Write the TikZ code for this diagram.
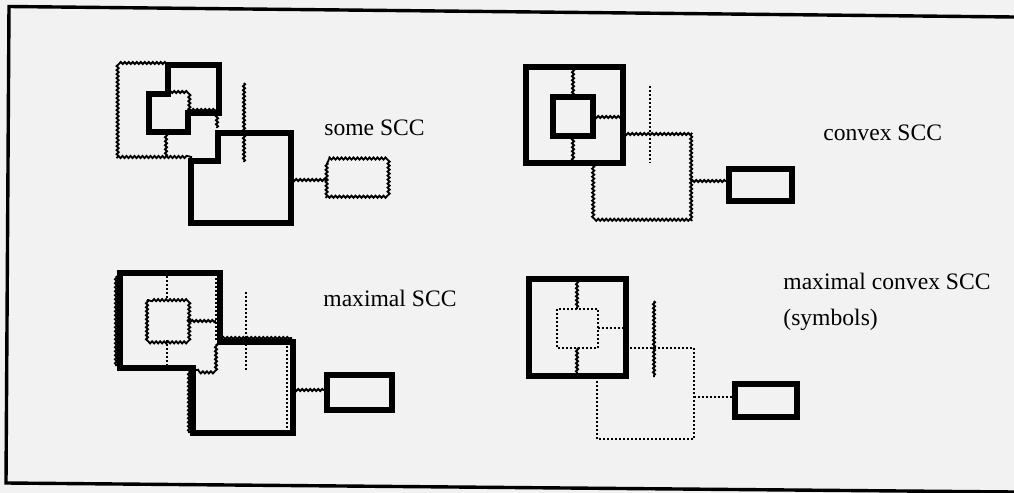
\documentclass[tikz,border=0pt]{standalone}
\usepackage{fontspec}
\setmainfont{Liberation Serif}
\usetikzlibrary{decorations.pathmorphing}
\tikzset{
  thk/.style={line width=2.6pt, line join=miter},
  wavy/.style={line width=0.9pt, decorate, decoration={snake, amplitude=0.55pt, segment length=2pt}},
  dots/.style={line width=1.3pt, dash pattern=on 1pt off 1pt},
  lbl/.style={anchor=base west, inner sep=0pt, font=\fontsize{11.8}{14}\selectfont},
}
\begin{document}
\begin{tikzpicture}[x=0.5pt,y=-0.5pt]
\fill[black!5] (0,0) rectangle (1014,493);
\useasboundingbox (0,0) rectangle (1014,493);
% frame
\coordinate (ftr) at (1014,17);
\coordinate (ftl) at (9,6.5);
\coordinate (fbl) at (6,483);
\coordinate (fbr) at (1014,492);
\draw[line width=1.7pt] (ftr) -- (ftl) -- (fbl) -- (fbr);

% ---------------- panel 1: some SCC
\draw[thk] (168,65) -- (219,65) -- (219,113) -- (188,113) -- (188,132) -- (149,132) -- (149,94) -- (168,94) -- cycle;
\draw[wavy] (168,63) -- (119,63) -- (119,157) -- (192,157);
\draw[wavy] (169,92) -- (188,92) -- (188,112);
\draw[wavy] (188,110) -- (217,110);
\draw[wavy] (217,113) -- (217,128);
\draw[wavy] (166,134) -- (166,157);
\draw[thk] (218,133) -- (291,133) -- (291,223) -- (191,223) -- (191,161) -- (218,161) -- cycle;
\draw[wavy] (244,83) -- (244,162);
\coordinate (c1) at (291,180);
\node[inner sep=0pt, minimum width=30.5pt, minimum height=17pt] (d1) at (357.5,180) {};
\draw[wavy] (d1.north west) rectangle (d1.south east);
\draw[wavy] (c1) -- (c1 -| d1.west);
\node[lbl] (t1) at (324,135) {some SCC};

% ---------------- panel 2: convex SCC
\draw[thk] (526,67) rectangle (623,163);
\draw[thk] (553,97) rectangle (593,136);
\draw[wavy] (573,69) -- (573,97);
\draw[wavy] (573,136) -- (573,161);
\draw[wavy] (593,117) -- (622,117);
\draw[wavy] (623,134) -- (691,134) -- (691,223) -- (593,223) -- (593,164);
\draw[dots] (650,86) -- (650,163);
\coordinate (c2) at (691,181);
\node[draw, thk, inner sep=0pt, minimum width=31.5pt, minimum height=16pt] (d2) at (760.5,185) {};
\draw[wavy] (c2) -- (c2 -| d2.west);
\node[lbl] (t2) at (823,140) {convex SCC};

% ---------------- panel 3: maximal SCC
\draw[thk] (120,273) -- (220,273) -- (220,342) -- (293,342) -- (293,433) -- (193,433) -- (193,368) -- (120,368) -- cycle;
\draw[wavy] (116,276) -- (116,366);
\draw[dots] (216,278) -- (216,340);
\draw[wavy] (216,344) -- (216,370) -- (196,370);
\draw[wavy] (222,338) -- (292,338);
\draw[dots] (287,346) -- (287,430);
\draw[wavy] (189,371) -- (189,433);
\draw[wavy] (147,300) rectangle (187,340);
\draw[dots] (167,276) -- (167,300);
\draw[dots] (167,340) -- (167,366);
\draw[wavy] (187,321) -- (216,321);
\draw[dots] (246,292) -- (246,372);
\coordinate (c3) at (293,390);
\node[draw, thk, inner sep=0pt, minimum width=32.5pt, minimum height=17.5pt] (d3) at (359.5,392.5) {};
\draw[wavy] (c3) -- (c3 -| d3.west);
\node[lbl] (t3) at (323,306) {maximal SCC};

% ---------------- panel 4: maximal convex SCC
\draw[thk] (529,279) rectangle (626,376);
\draw[dots] (557,309) rectangle (598,348);
\draw[wavy] (577,281) -- (577,309);
\draw[wavy] (577,348) -- (577,374);
\draw[dots] (598,328) -- (625,328);
\draw[dots] (626,348) -- (694,348) -- (694,439) -- (597,439) -- (597,377);
\draw[wavy] (654,301) -- (654,377);
\coordinate (c4) at (694,397);
\node[draw, thk, inner sep=0pt, minimum width=31pt, minimum height=16.5pt] (d4) at (766,400.5) {};
\draw[dots] (c4) -- (c4 -| d4.west);
\node[lbl] (t4) at (783,289) {maximal convex SCC};
\node[lbl] (t5) at (783,325) {(symbols)};
\end{tikzpicture}
\end{document}
